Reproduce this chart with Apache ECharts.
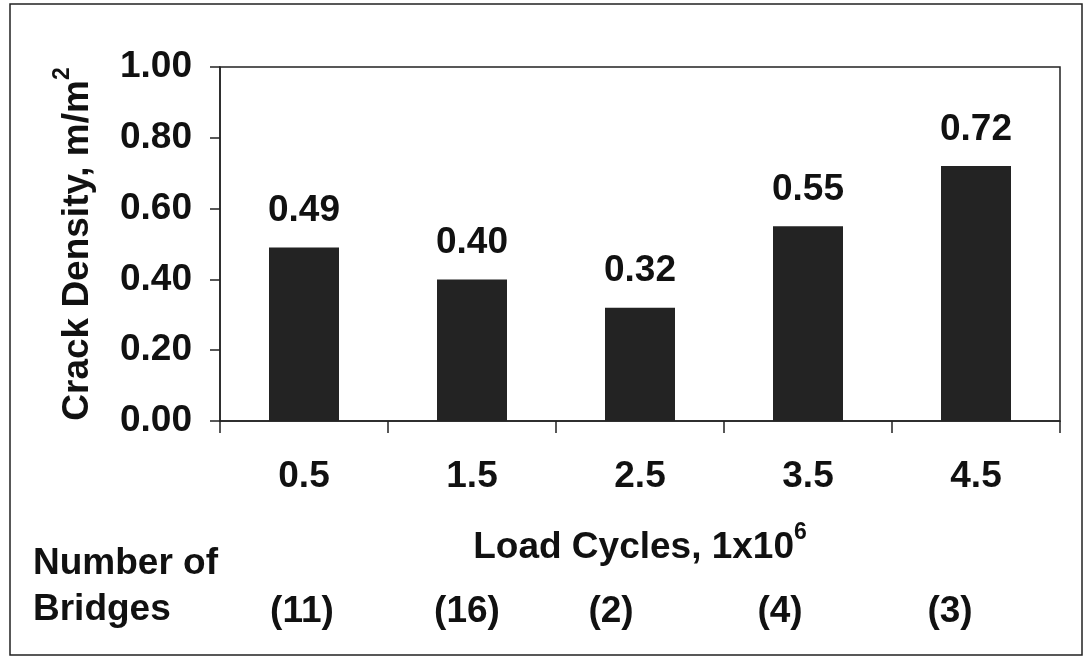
<!DOCTYPE html>
<html>
<head>
<meta charset="utf-8">
<script src="https://cdn.jsdelivr.net/npm/echarts@6/dist/echarts.min.js"></script>
<style>
html,body{margin:0;padding:0;background:#fff;}
#chart{width:1089px;height:660px;}
</style>
</head>
<body>
<div id="chart"></div>
<script>
// ---- data ----
var categories = ['0.5', '1.5', '2.5', '3.5', '4.5'];
var crackDensity = [0.49, 0.40, 0.32, 0.55, 0.72];
var bridgeCounts = ['(11)', '(16)', '(2)', '(4)', '(3)'];
var yTicks = [0, 0.2, 0.4, 0.6, 0.8, 1.0];

// ---- layout (not data) ----
var bridgeLabelX = [302, 467, 611, 780, 950];
var FONT = "'Liberation Sans', Arial, Helvetica, sans-serif";
var FS = 37;

var chart = echarts.init(document.getElementById('chart'));

var graphics = [
  { type: 'rect', shape: { x: 10, y: 4, width: 1072, height: 651 },
    style: { fill: 'none', stroke: '#222', lineWidth: 1.5 }, silent: true },
  { type: 'text', left: 33, top: 541,
    style: { text: 'Number of\nBridges', font: 'bold ' + FS + 'px ' + FONT,
             fill: '#111', lineHeight: 46 } }
];
bridgeCounts.forEach(function (t, i) {
  graphics.push({ type: 'text', x: bridgeLabelX[i], y: 612,
    style: { text: t, font: 'bold ' + FS + 'px ' + FONT, fill: '#111',
             textAlign: 'center', textVerticalAlign: 'middle' } });
});

var supStyle = { fontSize: 23, fontWeight: 'bold', verticalAlign: 'top',
                 padding: [0, 0, 30, 0], color: '#111', fontFamily: FONT };

chart.setOption({
  animation: false,
  backgroundColor: '#fff',
  textStyle: { fontFamily: FONT },
  grid: { left: 220, right: 29, top: 67, bottom: 239, show: true,
          borderColor: '#222', borderWidth: 1.5, backgroundColor: 'transparent' },
  xAxis: {
    type: 'category', data: categories,
    axisLine: { lineStyle: { color: '#222', width: 1.5 } },
    axisTick: { show: true, length: 12, lineStyle: { color: '#222', width: 1.5 } },
    axisLabel: { color: '#111', fontSize: FS, fontWeight: 'bold', margin: 37, fontFamily: FONT },
    name: 'Load Cycles, 1x10{sup|6}',
    nameLocation: 'middle', nameGap: 100,
    nameTextStyle: { color: '#111', fontSize: FS, fontWeight: 'bold', fontFamily: FONT,
      rich: { sup: supStyle } }
  },
  yAxis: {
    type: 'value', min: 0, max: 1, interval: 0.2,
    axisLine: { show: true, lineStyle: { color: '#222', width: 1.5 } },
    axisTick: { show: true, length: 10, lineStyle: { color: '#222', width: 1.5 } },
    splitLine: { show: false },
    axisLabel: { color: '#111', fontSize: FS, fontWeight: 'bold', margin: 28, fontFamily: FONT,
      formatter: function (v) { return v.toFixed(2); } },
    name: 'Crack Density, m/m{sup|2}',
    nameLocation: 'middle', nameGap: 116, nameRotate: 90,
    nameTextStyle: { color: '#111', fontSize: FS, fontWeight: 'bold', fontFamily: FONT,
      rich: { sup: supStyle } }
  },
  series: [{
    type: 'bar', data: crackDensity, barWidth: 70,
    itemStyle: { color: '#232323' },
    label: { show: true, position: 'top', distance: 18, color: '#111',
      fontSize: FS, fontWeight: 'bold', fontFamily: FONT,
      formatter: function (p) { return p.value.toFixed(2); } }
  }],
  graphic: graphics
});
</script>
</body>
</html>
